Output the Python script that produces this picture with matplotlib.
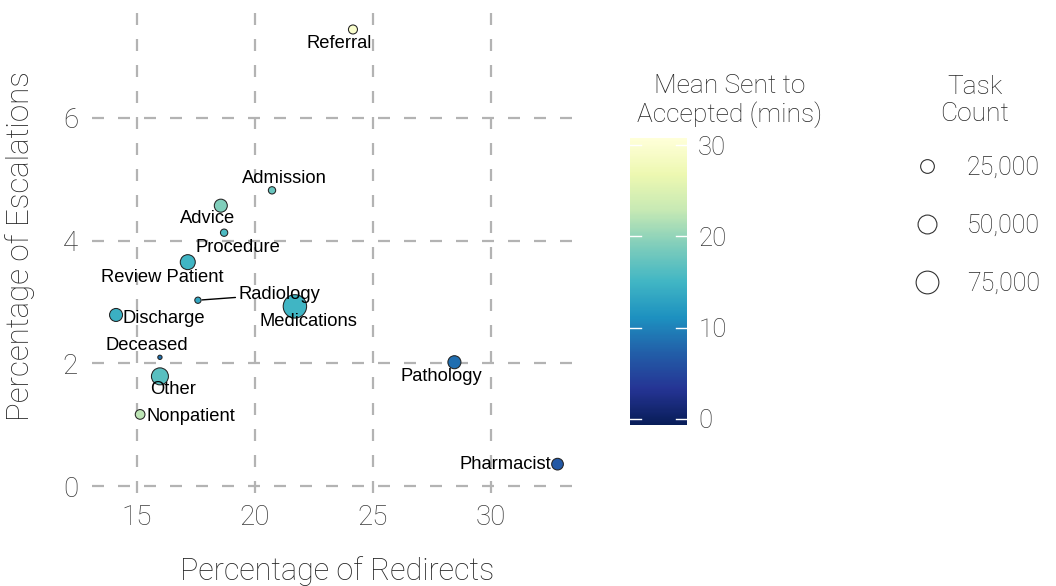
import numpy as np
import matplotlib
matplotlib.use("Agg")
import matplotlib.pyplot as plt
from matplotlib.lines import Line2D
from matplotlib import colors as mcolors

# data
categories = ["Referral", "Admission", "Advice", "Procedure", "Review Patient",
              "Radiology", "Discharge", "Medications", "Deceased", "Other",
              "Nonpatient", "Pathology", "Pharmacist"]
redirects = [24.15, 20.72, 18.55, 18.69, 17.15, 17.58, 14.11, 21.69, 15.97, 15.97,
             15.13, 28.45, 32.82]
escalations = [7.44, 4.82, 4.57, 4.13, 3.65, 3.03, 2.79, 2.93, 2.10, 1.79,
               1.17, 2.02, 0.36]
mean_mins = [29.5, 17.6, 19.0, 15.7, 15.0, 13.5, 14.4, 15.0, 8.8, 16.6,
             22.3, 8.5, 6.6]
task_count = [12000, 8200, 24900, 8200, 33400, 6400, 24900, 85000, 4000, 43400,
              13800, 25000, 20000]

size_breaks = [25000, 50000, 75000]
size_labels = ["25,000", "50,000", "75,000"]
cbar_ticks = [0, 10, 20, 30]

# label offsets in points (layout only)
label_offsets = [(-10, -10), (9, 8.6), (-9.4, -9.4), (10, -10.8), (-18.7, -10.8),
                 (58, 4.3), (34.5, -2.9), (9.4, -10.8), (-9.4, 8.6), (9.4, -9.4),
                 (36.7, -1.4), (-9.4, -10), (-37.4, 0)]

LIGHT = dict(family=["Roboto", "DejaVu Sans"], weight="light")
TXT = "#262626"
TICK = "#3a3a3a"
SIZE_LO, SIZE_HI = 3000, 85000


def marker_pts(v):
    """ggplot-like area scale: diameter in px -> marker size in points."""
    v = np.asarray(v, dtype=float)
    d_px = 2.9 + 21.5 * np.sqrt(np.clip((v - SIZE_LO) / (SIZE_HI - SIZE_LO), 0, None))
    return (d_px - 1.0) * 0.72


def lighten(labels):
    for lab in labels:
        lab.set_fontfamily(LIGHT["family"])
        lab.set_fontweight(LIGHT["weight"])


fig = plt.figure(figsize=(10.56, 5.86), dpi=100)
ax = fig.add_axes([0.0871, 0.1587, 0.465, 0.8413])

cmap = plt.get_cmap("YlGnBu_r")
norm = mcolors.Normalize(vmin=-0.66, vmax=30.77)

ax.set_xlim(13.09, 33.9)
ax.set_ylim(-0.11, 7.92)
ax.set_xticks([15, 20, 25, 30])
ax.set_yticks([0, 2, 4, 6])
ax.grid(True, color="#b3b3b3", linewidth=1.6, linestyle=(0, (5.4, 6.3)))
ax.set_axisbelow(True)
for sp in ax.spines.values():
    sp.set_visible(False)
ax.tick_params(length=0, labelsize=20, labelcolor=TICK)
ax.tick_params(axis="y", pad=10)
ax.tick_params(axis="x", pad=8)
lighten(ax.get_xticklabels() + ax.get_yticklabels())

sc = ax.scatter(redirects, escalations, s=marker_pts(task_count) ** 2, c=mean_mins,
                cmap=cmap, norm=norm, edgecolors="#222222", linewidths=0.75, zorder=3)

for name, x, y, off in zip(categories, redirects, escalations, label_offsets):
    if name == "Radiology":
        ax.annotate(name, (x, y), xytext=(off[0] - 29, off[1]), textcoords="offset points",
                    ha="left", va="center", fontsize=13.2, family="Liberation Sans",
                    arrowprops=dict(arrowstyle="-", color="black", lw=1.0,
                                    shrinkA=0, shrinkB=3), zorder=4)
    else:
        ax.annotate(name, (x, y), xytext=off, textcoords="offset points",
                    ha="center", va="center", fontsize=13.2, family="Liberation Sans",
                    zorder=4)

ax.set_xlabel("Percentage of Redirects", fontsize=22, color=TXT, labelpad=18, **LIGHT)
ax.set_ylabel("Percentage of Escalations", fontsize=22.5, color=TXT, labelpad=20, **LIGHT)

# colour bar
cax = fig.add_axes([0.5966, 0.2747, 0.054, 0.4898])
cb = fig.colorbar(sc, cax=cax, ticks=cbar_ticks)
cb.outline.set_visible(False)
cax.tick_params(length=0, labelsize=18.5, labelcolor=TICK, pad=8)
lighten(cax.get_yticklabels())
for t in cbar_ticks:
    cax.plot([0, 0.2], [t, t], color="white", lw=1, transform=cax.get_yaxis_transform())
    cax.plot([0.8, 1], [t, t], color="white", lw=1, transform=cax.get_yaxis_transform())
fig.text(0.691, 0.828, "Mean Sent to\nAccepted (mins)", ha="center", va="center",
         fontsize=19, color=TXT, linespacing=1.15, **LIGHT)

# size legend
fig.text(0.923, 0.828, "Task\nCount", ha="center", va="center",
         fontsize=19, color=TXT, linespacing=1.15, **LIGHT)
handles = [Line2D([], [], marker="o", ls="", markersize=float(marker_pts(b)) + 0.5,
                  markerfacecolor="white", markeredgecolor="#333333", markeredgewidth=0.8)
           for b in size_breaks]
leg = fig.legend(handles, size_labels, loc="upper left", bbox_to_anchor=(0.8636, 0.735),
                 frameon=False, fontsize=18, labelspacing=1.36, handlelength=1.2,
                 handletextpad=1.0, borderaxespad=0, borderpad=0)
for txt in leg.get_texts():
    txt.set_color(TXT)
lighten(leg.get_texts())

fig.savefig("out.png", dpi=100)
